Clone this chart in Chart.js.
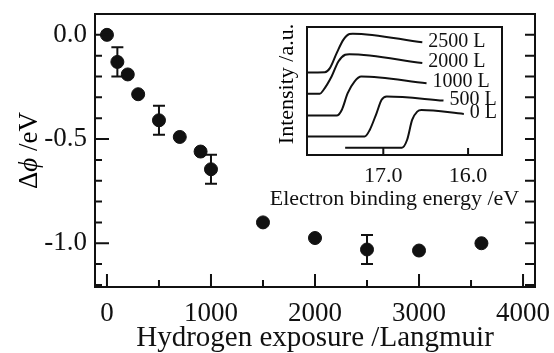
<!DOCTYPE html>
<html lang="en">
<head>
    <meta charset="UTF-8">
    <title>Work function change vs hydrogen exposure</title>
    <script src="https://cdn.jsdelivr.net/npm/chart.js"></script>
    <style>
        body { margin: 0; background: #fff; }
        .wrap { position: relative; width: 554px; height: 353px; }
        #mainChart { position: absolute; left: 0; top: 0; }
        #insetChart { position: absolute; left: 270px; top: 20px; }
    </style>
</head>
<body>
    <div class="wrap">
        <canvas id="mainChart" width="554" height="353"></canvas>
        <canvas id="insetChart" width="262" height="195"></canvas>
    </div>
    <script>
        // main panel: work function change vs exposure
        const exposure = [0, 100, 200, 300, 500, 700, 900, 1000, 1500, 2000, 2500, 3000, 3600];
        const deltaPhi = [0.0, -0.13, -0.19, -0.285, -0.41, -0.49, -0.56, -0.645, -0.90, -0.975, -1.03, -1.035, -1.00];
        const deltaPhiErr = [null, 0.07, null, null, 0.07, null, null, 0.07, null, null, 0.07, null, null];
        const exposureTicks = [0, 500, 1000, 1500, 2000, 2500, 3000, 3500, 4000];
        const exposureLabels = [0, 1000, 2000, 3000, 4000];
        const phiTicks = [0.1, 0.0, -0.1, -0.2, -0.3, -0.4, -0.5, -0.6, -0.7, -0.8, -0.9, -1.0, -1.1, -1.2];
        const phiLabels = [0.0, -0.5, -1.0];

        // inset: spectra edge for several exposures
        const curveNames = ['2500 L', '2000 L', '1000 L', '500 L', '0 L'];
        const energy2500 = [17.90, 17.69, 17.63, 17.55, 17.47, 17.40, 17.36, 16.54];
        const signal2500 = [6.45, 6.47, 6.79, 7.96, 9.01, 9.45, 9.48, 8.80];
        const energy2000 = [17.90, 17.75, 17.71, 17.61, 17.53, 17.45, 17.40, 16.54];
        const signal2000 = [4.78, 4.78, 5.04, 6.13, 7.31, 7.83, 7.88, 7.18];
        const energy1000 = [17.90, 17.55, 17.49, 17.42, 17.34, 17.26, 16.49];
        const signal1000 = [3.08, 3.08, 3.52, 4.83, 5.74, 6.13, 5.61];
        const energy500 = [17.90, 17.22, 17.16, 17.08, 17.02, 16.96, 16.29];
        const signal500 = [1.44, 1.44, 1.96, 3.26, 4.31, 4.57, 4.25];
        const energy0 = [17.45, 16.78, 16.72, 16.66, 16.60, 16.55, 16.05];
        const signal0 = [0.57, 0.57, 1.17, 2.74, 3.39, 3.52, 3.21];
        const energyLabels = [17.0, 16.0];

        const ink = '#111';
        const serif = "'Liberation Serif', 'Times New Roman', serif";

        const isLabel = (list, v) => list.some(p => Math.abs(p - v) < 1e-6);

        // keep the plot box where we put it, labels may hang over
        function noLabelPadding(scale) {
            scale.paddingLeft = 0;
            scale.paddingRight = 0;
            scale.paddingTop = 0;
            scale.paddingBottom = 0;
        }

        function drawVertical(ctx, parts, baseX, centerY) {
            ctx.save();
            ctx.translate(baseX, centerY);
            ctx.rotate(-Math.PI / 2);
            ctx.textBaseline = 'alphabetic';
            ctx.textAlign = 'left';
            let total = 0;
            parts.forEach(p => { ctx.font = p.font; total += ctx.measureText(p.text).width; });
            let x = -total / 2;
            parts.forEach(p => {
                ctx.font = p.font;
                ctx.fillText(p.text, x, 0);
                x += ctx.measureText(p.text).width;
            });
            ctx.restore();
        }

        const mainDecor = {
            id: 'mainDecor',
            afterDatasetsDraw(chart) {
                const {ctx, chartArea: a, scales: {x, y}} = chart;
                ctx.save();
                ctx.strokeStyle = ink;
                ctx.fillStyle = ink;
                ctx.lineWidth = 2;
                ctx.strokeRect(a.left, a.top, a.right - a.left, a.bottom - a.top);

                ctx.beginPath();
                exposureTicks.forEach(v => {
                    const px = x.getPixelForValue(v);
                    const len = isLabel(exposureLabels, v) ? 13 : 7;
                    ctx.moveTo(px, a.bottom);
                    ctx.lineTo(px, a.bottom - len);
                });
                phiTicks.forEach(v => {
                    const py = y.getPixelForValue(v);
                    ctx.moveTo(a.left, py);
                    ctx.lineTo(a.left + (isLabel(phiLabels, v) ? 14 : 7), py);
                    ctx.moveTo(a.right, py);
                    ctx.lineTo(a.right - 10, py);
                });
                ctx.stroke();

                // error bars
                ctx.beginPath();
                exposure.forEach((e, i) => {
                    const err = deltaPhiErr[i];
                    if (err == null) return;
                    const px = x.getPixelForValue(e);
                    const top = y.getPixelForValue(deltaPhi[i] + err);
                    const bot = y.getPixelForValue(deltaPhi[i] - err);
                    ctx.moveTo(px, top); ctx.lineTo(px, bot);
                    ctx.moveTo(px - 6, top); ctx.lineTo(px + 6, top);
                    ctx.moveTo(px - 6, bot); ctx.lineTo(px + 6, bot);
                });
                ctx.stroke();
                ctx.restore();

                drawVertical(ctx, [
                    {text: 'Δ', font: '27px ' + serif},
                    {text: 'ϕ', font: 'italic 27px ' + serif},
                    {text: ' /eV', font: '27px ' + serif}
                ], 37, (a.top + a.bottom) / 2);
            }
        };

        new Chart(document.getElementById('mainChart'), {
            type: 'scatter',
            data: {
                datasets: [{
                    data: exposure.map((e, i) => ({x: e, y: deltaPhi[i]})),
                    backgroundColor: ink,
                    borderColor: ink,
                    pointRadius: 6.5,
                    pointHoverRadius: 6.5
                }]
            },
            options: {
                responsive: false,
                animation: false,
                events: [],
                layout: { padding: { top: 14, right: 19, left: 0, bottom: 0 } },
                plugins: { legend: { display: false }, tooltip: { enabled: false } },
                scales: {
                    x: {
                        type: 'linear',
                        min: -115,
                        max: 4115,
                        grid: { display: false, drawTicks: false },
                        border: { display: false },
                        afterFit(scale) { scale.height = 66; noLabelPadding(scale); },
                        afterBuildTicks(scale) { scale.ticks = exposureLabels.map(v => ({value: v})); },
                        ticks: {
                            autoSkip: false,
                            maxRotation: 0,
                            padding: 11,
                            color: ink,
                            font: { family: serif, size: 27 },
                            callback: v => String(v)
                        },
                        title: {
                            display: true,
                            text: 'Hydrogen exposure /Langmuir',
                            color: ink,
                            font: { family: serif, size: 29, lineHeight: 1 },
                            padding: { top: 0, bottom: 0 }
                        }
                    },
                    y: {
                        type: 'linear',
                        min: -1.21,
                        max: 0.1,
                        grid: { display: false, drawTicks: false },
                        border: { display: false },
                        afterFit(scale) { scale.width = 95; noLabelPadding(scale); },
                        afterBuildTicks(scale) { scale.ticks = phiLabels.map(v => ({value: v})); },
                        ticks: {
                            autoSkip: false,
                            padding: 8,
                            color: ink,
                            font: { family: serif, size: 27 },
                            callback: v => Number(v).toFixed(1)
                        }
                    }
                }
            },
            plugins: [mainDecor]
        });

        const insetDecor = {
            id: 'insetDecor',
            afterDatasetsDraw(chart) {
                const {ctx, chartArea: a, scales: {x}} = chart;
                ctx.save();
                ctx.strokeStyle = ink;
                ctx.fillStyle = ink;
                ctx.lineWidth = 2;
                ctx.strokeRect(a.left, a.top, a.right - a.left, a.bottom - a.top);
                ctx.beginPath();
                energyLabels.forEach(v => {
                    const px = x.getPixelForValue(v);
                    ctx.moveTo(px, a.bottom);
                    ctx.lineTo(px, a.bottom - 7);
                });
                ctx.stroke();

                // curve names at the end of each trace
                ctx.font = '20px ' + serif;
                ctx.textBaseline = 'middle';
                ctx.textAlign = 'left';
                chart.data.datasets.forEach((ds, i) => {
                    const pts = chart.getDatasetMeta(i).data;
                    const last = pts[pts.length - 1];
                    ctx.fillText(curveNames[i], last.x + 6, last.y - 1);
                });

                ctx.font = '22px ' + serif;
                ctx.textBaseline = 'alphabetic';
                ctx.textAlign = 'center';
                ctx.fillText('Electron binding energy /eV', (a.left + a.right) / 2 - 10, 185);
                ctx.restore();

                drawVertical(ctx, [{text: 'Intensity /a.u.', font: '22px ' + serif}], 23, 64);
            }
        };

        const insetSeries = [
            [energy2500, signal2500],
            [energy2000, signal2000],
            [energy1000, signal1000],
            [energy500, signal500],
            [energy0, signal0]
        ];

        new Chart(document.getElementById('insetChart'), {
            type: 'scatter',
            data: {
                datasets: insetSeries.map(([en, sig]) => ({
                    data: en.map((e, i) => ({x: e, y: sig[i]})),
                    showLine: true,
                    borderColor: ink,
                    borderWidth: 2,
                    pointRadius: 0,
                    cubicInterpolationMode: 'monotone'
                }))
            },
            options: {
                responsive: false,
                animation: false,
                events: [],
                layout: { padding: { top: 7, right: 30, left: 0, bottom: 0 } },
                plugins: { legend: { display: false }, tooltip: { enabled: false } },
                scales: {
                    x: {
                        type: 'linear',
                        reverse: true,
                        min: 15.6,
                        max: 17.9,
                        grid: { display: false, drawTicks: false },
                        border: { display: false },
                        afterFit(scale) { scale.height = 60; noLabelPadding(scale); },
                        afterBuildTicks(scale) { scale.ticks = energyLabels.map(v => ({value: v})); },
                        ticks: {
                            autoSkip: false,
                            maxRotation: 0,
                            padding: 8,
                            color: ink,
                            font: { family: serif, size: 22 },
                            callback: v => Number(v).toFixed(1)
                        }
                    },
                    y: {
                        type: 'linear',
                        min: 0,
                        max: 10,
                        grid: { display: false, drawTicks: false },
                        border: { display: false },
                        afterFit(scale) { scale.width = 37; noLabelPadding(scale); },
                        ticks: { display: false }
                    }
                }
            },
            plugins: [insetDecor]
        });
    </script>
</body>
</html>
